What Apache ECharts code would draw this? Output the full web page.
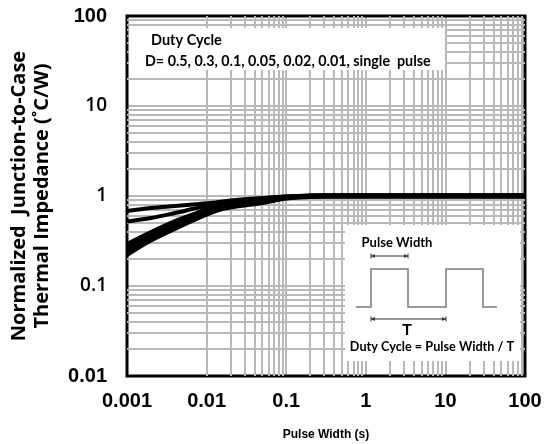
<!DOCTYPE html>
<html>
<head>
<meta charset="utf-8">
<script src="https://cdn.jsdelivr.net/npm/echarts@6/dist/echarts.min.js"></script>
<style>
  html, body { margin: 0; padding: 0; background: #fff; }
  #chart { width: 546px; height: 444px; }
</style>
</head>
<body>
<div id="chart"></div>
<script>
// Pulse widths (s) at which the curves are sampled
const pulseWidth = [0.001, 0.002, 0.004, 0.008, 0.013, 0.02, 0.05, 0.1, 0.2, 0.3, 0.5, 1, 10, 100];

// Normalized junction-to-case thermal impedance for each duty cycle
const zD50   = [0.681, 0.736, 0.774, 0.815, 0.847, 0.891, 0.950, 0.990, 1.015, 1.020, 1.020, 1.020, 1.020, 1.020];
const zD30   = [0.521, 0.569, 0.647, 0.745, 0.815, 0.869, 0.938, 0.985, 1.010, 1.015, 1.015, 1.015, 1.015, 1.015];
const zD10   = [0.293, 0.398, 0.527, 0.664, 0.784, 0.836, 0.914, 0.975, 1.005, 1.010, 1.010, 1.010, 1.010, 1.010];
const zD05   = [0.271, 0.378, 0.501, 0.639, 0.755, 0.804, 0.891, 0.965, 1.000, 1.000, 1.000, 1.000, 1.000, 1.000];
const zD02   = [0.251, 0.355, 0.476, 0.615, 0.726, 0.784, 0.869, 0.955, 0.990, 0.995, 0.995, 0.995, 0.995, 0.995];
const zD01   = [0.235, 0.337, 0.452, 0.592, 0.708, 0.764, 0.858, 0.945, 0.985, 0.990, 0.990, 0.990, 0.990, 0.990];
const zSingle = [0.221, 0.320, 0.430, 0.569, 0.681, 0.745, 0.836, 0.935, 0.975, 0.985, 0.985, 0.985, 0.985, 0.985];

const seriesNames = ['D=0.5', 'D=0.3', 'D=0.1', 'D=0.05', 'D=0.02', 'D=0.01', 'single pulse'];
const seriesValues = [zD50, zD30, zD10, zD05, zD02, zD01, zSingle];

// Axis ranges and tick labels
const xDecades = [0.001, 0.01, 0.1, 1, 10, 100];
const xTickLabels = ['0.001', '0.01', '0.1', '1', '10', '100'];
const yDecades = [0.01, 0.1, 1, 10, 100];
const yTickLabels = ['0.01', '0.1', '1', '10', '100'];

const gridColor = '#b9b9b9';

// minor grid values 2..9 within each decade
function minorValues(decades) {
  const out = [];
  for (let i = 0; i < decades.length - 1; i++) {
    for (let m = 2; m <= 9; m++) out.push(+(m * decades[i]).toPrecision(3));
  }
  return out;
}
const minorLines = []
  .concat(minorValues(xDecades).map(v => ({ xAxis: v })))
  .concat(minorValues(yDecades).map(v => ({ yAxis: v })));

const chart = echarts.init(document.getElementById('chart'), null, { renderer: 'canvas' });

const G = { left: 127, top: 16, right: 21, bottom: 68 };
const titleFont = 'Open Sans';
const noteFont = 'Lato';

const curveSeries = seriesValues.map((vals, i) => ({
  name: seriesNames[i],
  type: 'line',
  data: pulseWidth.map((x, k) => [x, vals[k]]),
  smooth: 0.35,
  showSymbol: false,
  symbol: 'none',
  z: 5,
  lineStyle: { color: '#000', width: 4 },
  silent: true
}));

function arrow(x1, x2, y) {
  const c = '#333';
  return [
    { type: 'line', z: 60, shape: { x1: x1, y1: y, x2: x2, y2: y }, style: { stroke: c, lineWidth: 1 } },
    { type: 'line', z: 60, shape: { x1: x1, y1: y - 2.5, x2: x1, y2: y + 2.5 }, style: { stroke: c, lineWidth: 1 } },
    { type: 'line', z: 60, shape: { x1: x2, y1: y - 2.5, x2: x2, y2: y + 2.5 }, style: { stroke: c, lineWidth: 1 } },
    { type: 'polygon', z: 60, shape: { points: [[x1, y], [x1 + 4, y - 2], [x1 + 4, y + 2]] }, style: { fill: c } },
    { type: 'polygon', z: 60, shape: { points: [[x2, y], [x2 - 4, y - 2], [x2 - 4, y + 2]] }, style: { fill: c } }
  ];
}

const option = {
  backgroundColor: '#fff',
  animation: false,
  grid: Object.assign({ show: true, borderColor: '#000', borderWidth: 3, z: 3, containLabel: false, outerBoundsMode: 'none' }, G),
  xAxis: {
    type: 'log',
    logBase: 10,
    min: 0.001,
    max: 100,
    name: 'Pulse Width (s)',
    nameLocation: 'middle',
    nameGap: 53,
    nameTextStyle: { fontFamily: 'Liberation Sans', fontWeight: 'bold', fontSize: 12, color: '#000' },
    axisLine: { show: false },
    axisTick: { show: false },
    axisLabel: {
      margin: 15,
      fontFamily: 'Liberation Sans',
      fontWeight: 'bold',
      fontSize: 20,
      color: '#000',
      formatter: v => xTickLabels[Math.round(Math.log10(v)) + 3]
    },
    splitLine: { show: true, showMinLine: false, showMaxLine: false, lineStyle: { color: gridColor, width: 2 } }
  },
  yAxis: {
    type: 'log',
    logBase: 10,
    min: 0.01,
    max: 100,
    name: 'Normalized  Junction-to-Case\nThermal Impedance (\u02DAC/W)',
    nameLocation: 'middle',
    nameGap: 73,
    nameRotate: 90,
    nameTextStyle: { fontFamily: titleFont, fontWeight: 'bold', fontSize: 20, lineHeight: 23, color: '#000', align: 'center' },
    axisLine: { show: false },
    axisTick: { show: false },
    axisLabel: {
      margin: 20,
      color: '#000',
      formatter: v => {
        const i = Math.round(Math.log10(v)) + 2;
        const t = yTickLabels[i];
        return (i === 0 || i === 4) ? '{a|' + t + '}' : '{b|' + t + '}';
      },
      rich: {
        a: { fontFamily: 'Liberation Sans', fontWeight: 'bold', fontSize: 20, color: '#000' },
        b: { fontFamily: 'Open Sans', fontWeight: 600, fontSize: 19, color: '#000' }
      }
    },
    splitLine: { show: true, showMinLine: false, showMaxLine: false, lineStyle: { color: gridColor, width: 2 } }
  },
  series: [
    {
      name: 'grid',
      type: 'line',
      data: [[0.001, 1]],
      symbol: 'none',
      lineStyle: { opacity: 0 },
      z: 1,
      silent: true,
      markLine: {
        silent: true,
        symbol: 'none',
        animation: false,
        label: { show: false },
        lineStyle: { color: gridColor, width: 2, type: 'solid' },
        emphasis: { disabled: true },
        data: minorLines
      }
    }
  ].concat(curveSeries),
  graphic: [
    // duty-cycle legend box
    { type: 'rect', z: 50, shape: { x: 129, y: 28, width: 316, height: 42 }, style: { fill: '#fff' } },
    { type: 'text', z: 51, x: 151, y: 40, style: { text: 'Duty Cycle', fontFamily: noteFont, fontWeight: 'bold', fontSize: 14.5, fill: '#000', verticalAlign: 'middle' } },
    { type: 'text', z: 51, x: 145, y: 61, style: { text: 'D= 0.5, 0.3, 0.1, 0.05, 0.02, 0.01, single  pulse', fontFamily: noteFont, fontWeight: 'bold', fontSize: 14.3, fill: '#000', verticalAlign: 'middle' } },
    // pulse-train inset
    { type: 'rect', z: 50, shape: { x: 345, y: 225, width: 175, height: 136 }, style: { fill: '#fff' } },
    { type: 'text', z: 51, x: 397, y: 243, style: { text: 'Pulse Width', fontFamily: noteFont, fontWeight: 'bold', fontSize: 13, fill: '#000', align: 'center', verticalAlign: 'middle' } },
    { type: 'polyline', z: 52, shape: { points: [[356, 307], [371, 307], [371, 269], [408, 269], [408, 307], [446, 307], [446, 269], [483, 269], [483, 307], [497, 307]] }, style: { stroke: '#7a7a7a', lineWidth: 1.5, fill: null } },
    { type: 'text', z: 51, x: 407, y: 330, style: { text: 'T', fontFamily: noteFont, fontWeight: 'bold', fontSize: 16, fill: '#000', align: 'center', verticalAlign: 'middle' } },
    { type: 'text', z: 51, x: 432, y: 347, style: { text: 'Duty Cycle = Pulse Width / T', fontFamily: noteFont, fontWeight: 'bold', fontSize: 12.7, fill: '#000', align: 'center', verticalAlign: 'middle' } }
  ].concat(arrow(371, 408, 256)).concat(arrow(371, 446, 319))
};

chart.setOption(option);
</script>
</body>
</html>
